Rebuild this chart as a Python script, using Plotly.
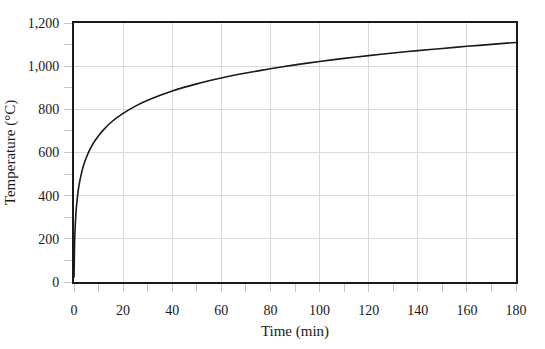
import plotly.graph_objects as go

time_min = [0, 0.25, 0.5, 1, 1.5, 2, 3, 4, 5, 6, 8, 10, 12, 15, 20, 25, 30, 40, 50, 60,
            70, 80, 90, 100, 110, 120, 130, 140, 150, 160, 170, 180]
temperature = [20, 185, 261, 349, 404, 445, 502, 544, 576, 603, 645, 678, 705, 739, 781, 815, 842,
               885, 918, 945, 968, 988, 1006, 1022, 1036, 1049, 1061, 1072, 1082, 1092, 1101, 1110]

x_ticks = [0, 20, 40, 60, 80, 100, 120, 140, 160, 180]
y_ticks = [0, 200, 400, 600, 800, 1000, 1200]

font = "Liberation Serif, Times New Roman, serif"

fig = go.Figure(go.Scatter(x=time_min, y=temperature, mode="lines",
                           line=dict(color="#1a1a1a", width=1.6, shape="spline", smoothing=0.6),
                           showlegend=False, hoverinfo="skip"))

axis_common = dict(showline=True, linecolor="#1a1a1a", linewidth=2, mirror=True,
                   showgrid=True, gridcolor="#d9d9d9", gridwidth=1,
                   ticks="outside", tickcolor="#c8c8c8", ticklen=8, tickwidth=1,
                   zeroline=False, automargin=False,
                   tickfont=dict(family=font, size=14, color="#1a1a1a"))

fig.update_xaxes(range=[0, 180], tickvals=x_ticks, ticklabelstandoff=6, **axis_common,
                 minor=dict(ticks="outside", tickcolor="#c8c8c8", ticklen=8, dtick=10, showgrid=False),
                 title=dict(text="Time (min)", font=dict(family=font, size=15, color="#1a1a1a"), standoff=9))
fig.update_yaxes(range=[0, 1200], tickvals=y_ticks, tickformat=",", ticklabelstandoff=2, **axis_common,
                 minor=dict(ticks="outside", tickcolor="#c8c8c8", ticklen=8, dtick=100, showgrid=False),
                 title=dict(text="Temperature (°C)", font=dict(family=font, size=15, color="#1a1a1a"), standoff=8))

fig.update_layout(width=545, height=349, margin=dict(l=74, r=29, t=23, b=67),
                  plot_bgcolor="white", paper_bgcolor="white")

fig.write_html("out.html")
